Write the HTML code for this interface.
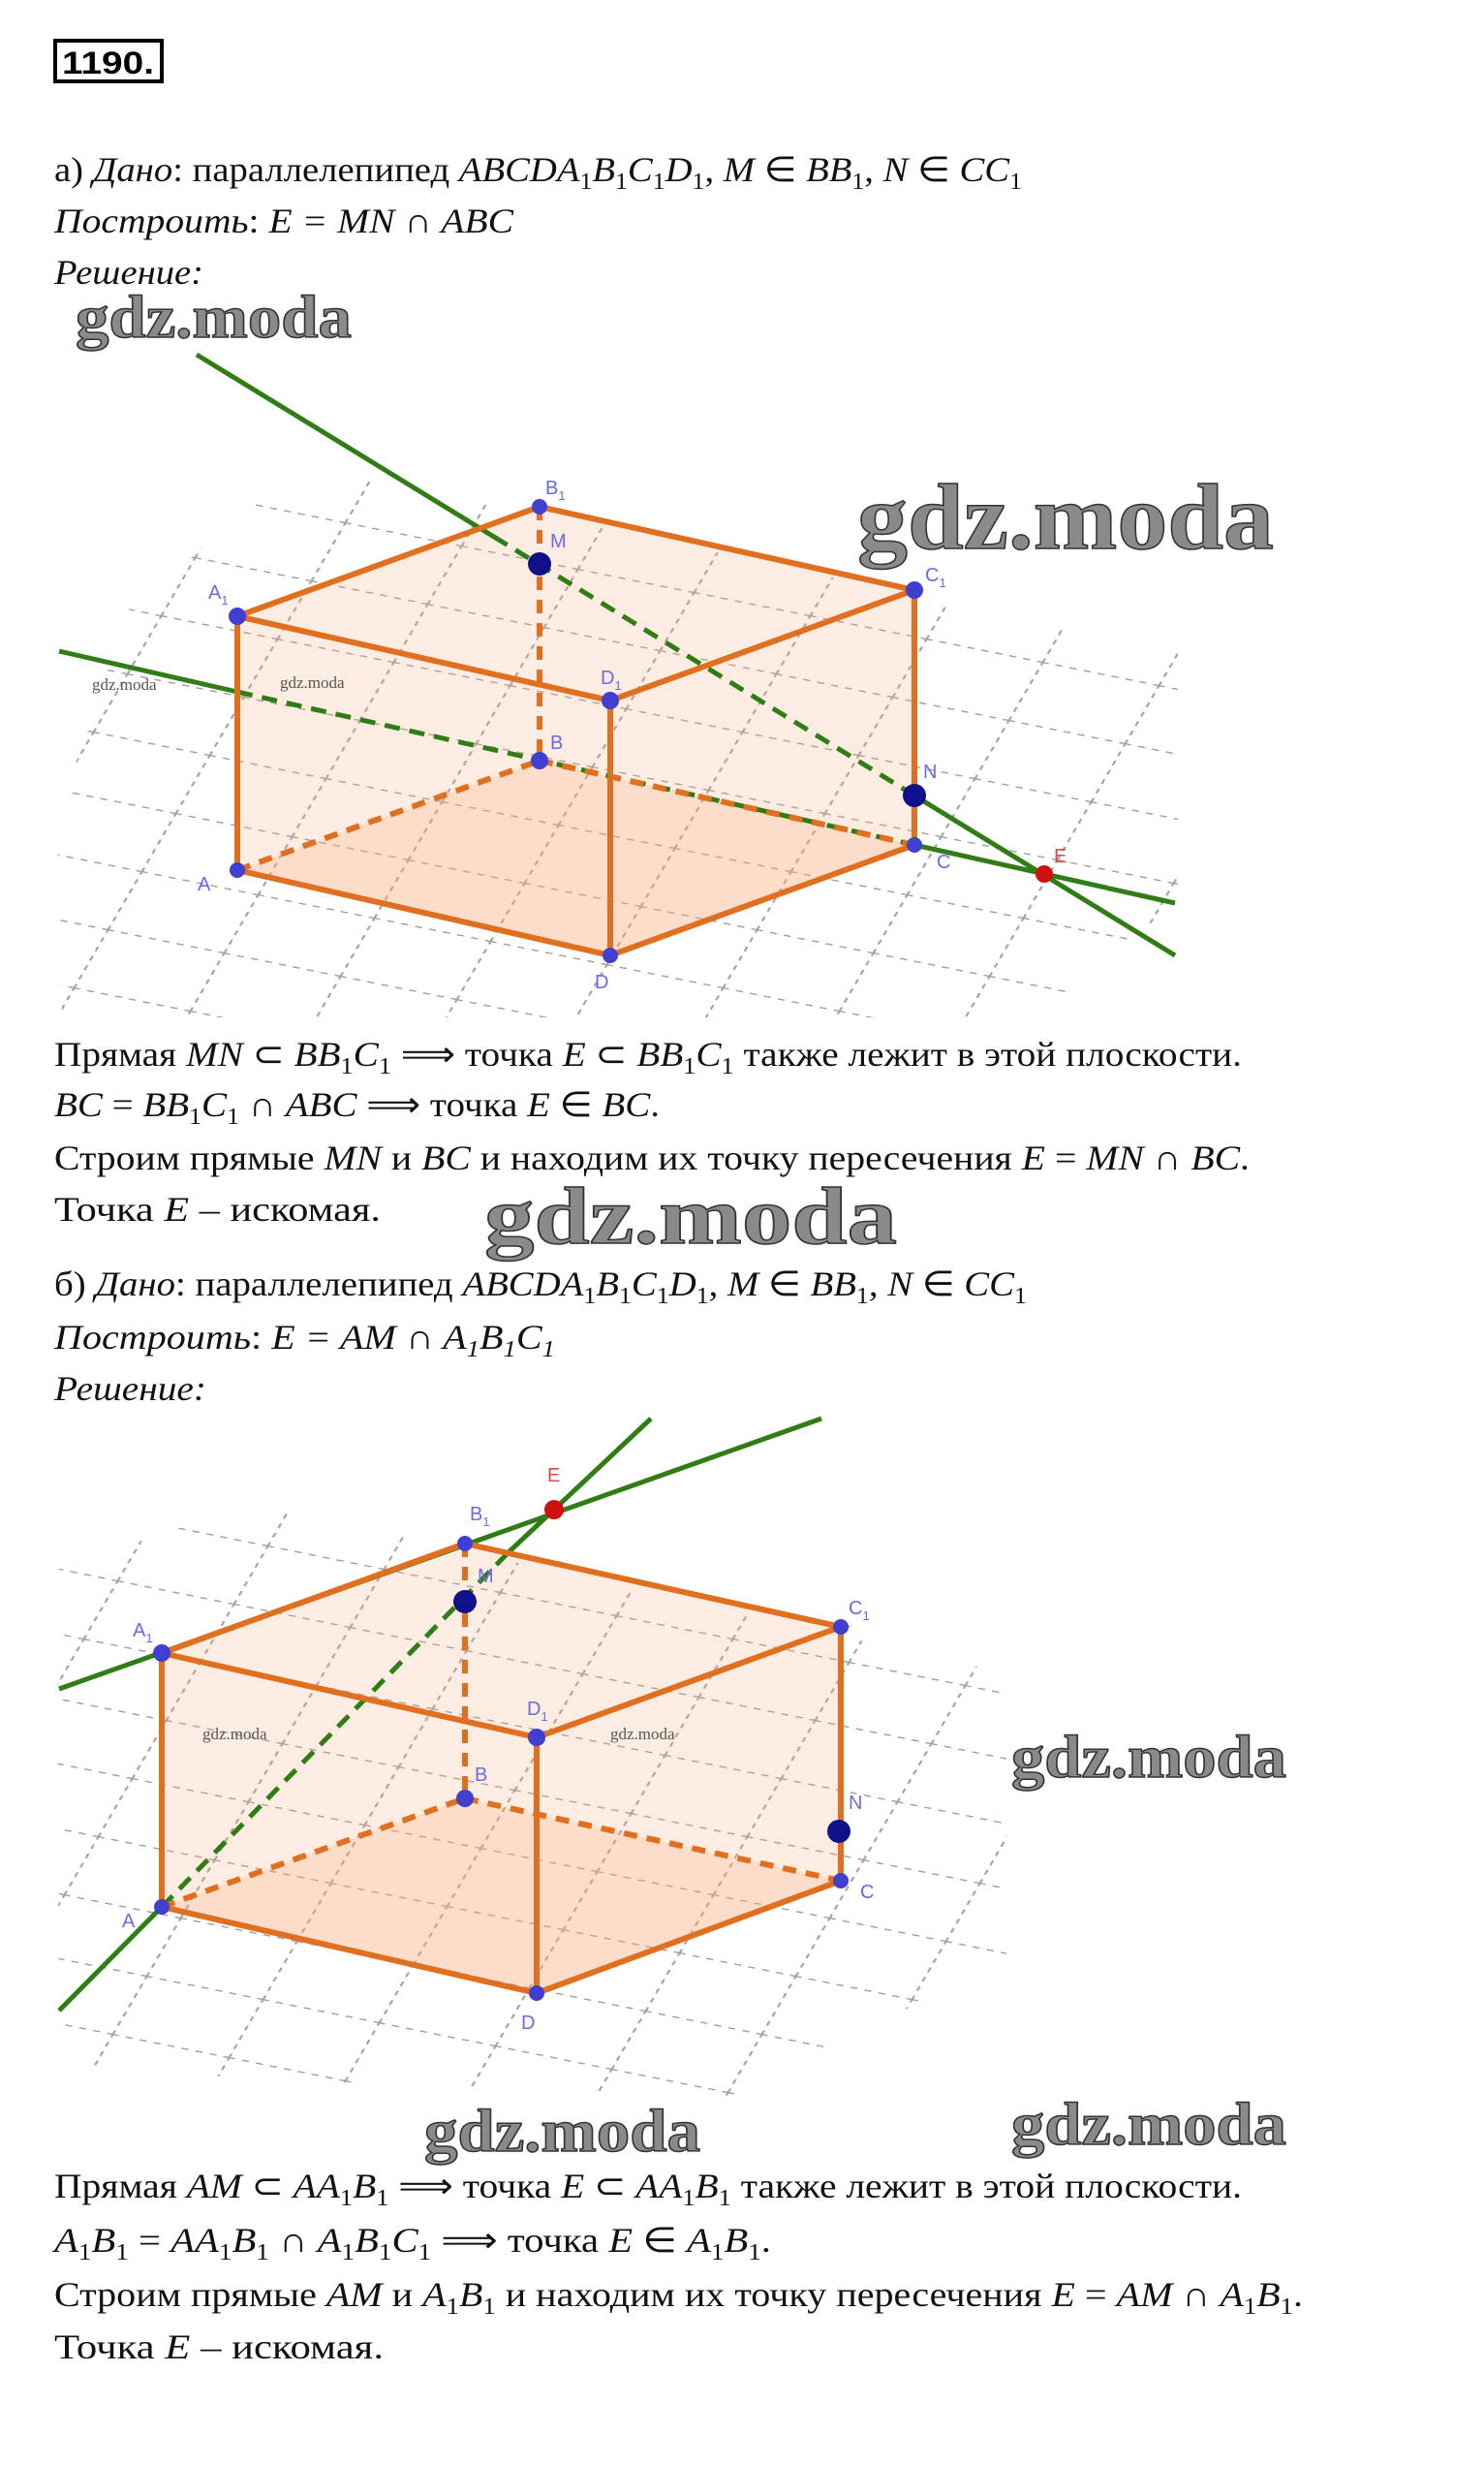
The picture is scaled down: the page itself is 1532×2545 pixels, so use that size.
<!DOCTYPE html>
<html><head><meta charset="utf-8"><style>
html,body{margin:0;padding:0;background:#fff}
svg{display:block}
.t{font-family:"Liberation Serif",serif;font-size:36px;fill:#111}
.i{font-style:italic}
.s{font-size:24px}
.wm{font-family:"Liberation Serif",serif;font-weight:bold;fill:#8a8a8a;stroke:#333;stroke-width:1.5}
.wms{font-family:"Liberation Serif",serif;font-size:17px;fill:#555}
.lb{font-family:"Liberation Sans",sans-serif;font-size:20px;fill:#6a6ae6}
.edge{stroke:#e07020;stroke-width:6;fill:none;stroke-linecap:round}
.dash{stroke:#e07020;stroke-width:6;fill:none;stroke-dasharray:14 10}
.g{stroke:#2f7d14;stroke-width:5;fill:none}
.gd{stroke:#2f7d14;stroke-width:5;fill:none;stroke-dasharray:16 10}
.p{fill:#3f3fd0}
.pm{fill:#10108a}
</style></head><body>
<svg width="1532" height="2545" viewBox="0 0 1532 2545" xmlns="http://www.w3.org/2000/svg">
<defs>
<pattern id="grid" width="100" height="100" patternUnits="userSpaceOnUse" patternTransform="matrix(1.2,0.24,0.35,-0.6,0,0)">
<line x1="0" y1="1" x2="100" y2="1" stroke="#888" stroke-width="2.4" stroke-dasharray="6 6"/>
<line x1="1" y1="0" x2="1" y2="100" stroke="#888" stroke-width="1.8" stroke-dasharray="8 8"/>
</pattern>
</defs>
<rect x="57" y="42" width="110" height="42" fill="none" stroke="#000" stroke-width="4"/>
<text x="64" y="76" style="font-family:'Liberation Sans',sans-serif;font-weight:bold;font-size:32px" textLength="95" lengthAdjust="spacingAndGlyphs">1190.</text>

<text class="t" x="56" y="187" textLength="999" lengthAdjust="spacingAndGlyphs">а) <tspan class="i">Дано</tspan>: параллелепипед <tspan class="i">ABCDA</tspan><tspan class="s" dy="8">1</tspan><tspan class="i" dy="-8">B</tspan><tspan class="s" dy="8">1</tspan><tspan class="i" dy="-8">C</tspan><tspan class="s" dy="8">1</tspan><tspan class="i" dy="-8">D</tspan><tspan class="s" dy="8">1</tspan><tspan dy="-8">, </tspan><tspan class="i">M</tspan> ∈ <tspan class="i">BB</tspan><tspan class="s" dy="8">1</tspan><tspan dy="-8">, </tspan><tspan class="i">N</tspan> ∈ <tspan class="i">CC</tspan><tspan class="s" dy="8">1</tspan></text>
<text class="t i" x="56" y="240" textLength="474" lengthAdjust="spacingAndGlyphs">Построить<tspan style="font-style:normal">: </tspan>E = MN ∩ ABC</text>
<text class="t i" x="56" y="293" textLength="154" lengthAdjust="spacingAndGlyphs">Решение:</text>

<polygon points="314,477 1216,674 1216,930 1069,1050 64,1050 59,856 120,640" fill="url(#grid)" opacity="0.8"/>
<g fill="rgba(245,170,120,0.22)">
<polygon points="245,636 557,523 944,609 630,723"/>
<polygon points="245,636 630,723 630,986 245,898"/>
<polygon points="630,723 944,609 944,872 630,986"/>
<polygon points="245,898 557,785 944,872 630,986"/>
</g>
<line class="g" x1="203" y1="366" x2="510" y2="554"/>
<line class="gd" x1="510" y1="554" x2="944" y2="821"/>
<line class="g" x1="944" y1="821" x2="1213" y2="986"/>
<line class="g" x1="61" y1="672" x2="245" y2="714"/>
<line class="gd" x1="245" y1="714" x2="944" y2="872"/>
<line class="g" x1="944" y1="872" x2="1213" y2="932"/>
<line class="dash" x1="557" y1="523" x2="557" y2="785"/>
<line class="dash" x1="245" y1="898" x2="557" y2="785"/>
<line class="dash" x1="557" y1="785" x2="944" y2="872"/>
<polyline class="edge" points="245,636 557,523 944,609 630,723 245,636"/>
<line class="edge" x1="245" y1="636" x2="245" y2="898"/>
<line class="edge" x1="630" y1="723" x2="630" y2="986"/>
<line class="edge" x1="944" y1="609" x2="944" y2="872"/>
<polyline class="edge" points="245,898 630,986 944,872"/>
<circle class="p" cx="557" cy="523" r="8"/><circle class="pm" cx="557" cy="582" r="12"/>
<circle class="p" cx="245" cy="636" r="9"/><circle class="p" cx="944" cy="609" r="9"/>
<circle class="p" cx="630" cy="723" r="9"/><circle class="p" cx="557" cy="785" r="9"/>
<circle class="pm" cx="944" cy="821" r="12"/><circle class="p" cx="944" cy="872" r="8"/>
<circle class="p" cx="245" cy="898" r="8"/><circle class="p" cx="630" cy="986" r="8"/>
<circle cx="1078" cy="902" r="9" fill="#d01010"/>
<text class="lb" x="563" y="510">B<tspan font-size="13" dy="6">1</tspan></text>
<text class="lb" x="568" y="565">M</text>
<text class="lb" x="215" y="618">A<tspan font-size="13" dy="6">1</tspan></text>
<text class="lb" x="955" y="600">C<tspan font-size="13" dy="6">1</tspan></text>
<text class="lb" x="620" y="706">D<tspan font-size="13" dy="6">1</tspan></text>
<text class="lb" x="568" y="773">B</text>
<text class="lb" x="953" y="803">N</text>
<text class="lb" x="967" y="896">C</text>
<text class="lb" x="204" y="919">A</text>
<text class="lb" x="614" y="1020">D</text>
<text class="lb" x="1088" y="890" style="fill:#e04848">E</text>
<text class="wms" x="95" y="712">gdz.moda</text>
<text class="wms" x="289" y="710">gdz.moda</text>
<text class="wm" x="78" y="348" font-size="62" textLength="285" lengthAdjust="spacingAndGlyphs">gdz.moda</text>
<text class="wm" x="885" y="566" font-size="96" textLength="430" lengthAdjust="spacingAndGlyphs">gdz.moda</text>

<text class="t" x="56" y="1100" textLength="1226" lengthAdjust="spacingAndGlyphs">Прямая <tspan class="i">MN</tspan> ⊂ <tspan class="i">BB</tspan><tspan class="s" dy="8">1</tspan><tspan class="i" dy="-8">C</tspan><tspan class="s" dy="8">1</tspan><tspan dy="-8"> ⟹ точка </tspan><tspan class="i">E</tspan> ⊂ <tspan class="i">BB</tspan><tspan class="s" dy="8">1</tspan><tspan class="i" dy="-8">C</tspan><tspan class="s" dy="8">1</tspan><tspan dy="-8"> также лежит в этой плоскости.</tspan></text>
<text class="t" x="56" y="1152" textLength="625" lengthAdjust="spacingAndGlyphs"><tspan class="i">BC</tspan> = <tspan class="i">BB</tspan><tspan class="s" dy="8">1</tspan><tspan class="i" dy="-8">C</tspan><tspan class="s" dy="8">1</tspan><tspan dy="-8"> ∩ </tspan><tspan class="i">ABC</tspan> ⟹ точка <tspan class="i">E</tspan> ∈ <tspan class="i">BC</tspan>.</text>
<text class="t" x="56" y="1207" textLength="1234" lengthAdjust="spacingAndGlyphs">Строим прямые <tspan class="i">MN</tspan> и <tspan class="i">BC</tspan> и находим их точку пересечения <tspan class="i">E</tspan> = <tspan class="i">MN</tspan> ∩ <tspan class="i">BC</tspan>.</text>
<text class="t" x="56" y="1260" textLength="337" lengthAdjust="spacingAndGlyphs">Точка  <tspan class="i">E</tspan>  – искомая.</text>
<text class="wm" x="500" y="1283" font-size="84" textLength="426" lengthAdjust="spacingAndGlyphs">gdz.moda</text>

<text class="t" x="56" y="1337" textLength="1004" lengthAdjust="spacingAndGlyphs">б) <tspan class="i">Дано</tspan>: параллелепипед <tspan class="i">ABCDA</tspan><tspan class="s" dy="8">1</tspan><tspan class="i" dy="-8">B</tspan><tspan class="s" dy="8">1</tspan><tspan class="i" dy="-8">C</tspan><tspan class="s" dy="8">1</tspan><tspan class="i" dy="-8">D</tspan><tspan class="s" dy="8">1</tspan><tspan dy="-8">, </tspan><tspan class="i">M</tspan> ∈ <tspan class="i">BB</tspan><tspan class="s" dy="8">1</tspan><tspan dy="-8">, </tspan><tspan class="i">N</tspan> ∈ <tspan class="i">CC</tspan><tspan class="s" dy="8">1</tspan></text>
<text class="t i" x="56" y="1392" textLength="517" lengthAdjust="spacingAndGlyphs">Построить<tspan style="font-style:normal">: </tspan>E = AM ∩ A<tspan class="s" dy="8">1</tspan><tspan dy="-8">B</tspan><tspan class="s" dy="8">1</tspan><tspan dy="-8">C</tspan><tspan class="s" dy="8">1</tspan></text>
<text class="t i" x="56" y="1445" textLength="157" lengthAdjust="spacingAndGlyphs">Решение:</text>

<polygon points="260,1551 1039,1727 1039,2022 745,2168 61,2135 59,1620" fill="url(#grid)" opacity="0.8"/>
<g fill="rgba(245,170,120,0.22)">
<polygon points="167,1706 480,1593 868,1679 554,1793"/>
<polygon points="167,1706 554,1793 554,2057 167,1968"/>
<polygon points="554,1793 868,1679 868,1941 554,2057"/>
<polygon points="167,1968 480,1856 868,1941 554,2057"/>
</g>
<line class="g" x1="61" y1="2075" x2="167" y2="1968"/>
<line class="gd" x1="167" y1="1968" x2="525" y2="1602"/>
<line class="g" x1="525" y1="1602" x2="672" y2="1464"/>
<line class="g" x1="61" y1="1743" x2="848" y2="1464"/>
<line class="dash" x1="480" y1="1593" x2="480" y2="1856"/>
<line class="dash" x1="167" y1="1968" x2="480" y2="1856"/>
<line class="dash" x1="480" y1="1856" x2="868" y2="1941"/>
<polyline class="edge" points="167,1706 480,1593 868,1679 554,1793 167,1706"/>
<line class="edge" x1="167" y1="1706" x2="167" y2="1968"/>
<line class="edge" x1="554" y1="1793" x2="554" y2="2057"/>
<line class="edge" x1="868" y1="1679" x2="868" y2="1941"/>
<polyline class="edge" points="167,1968 554,2057 868,1941"/>
<circle class="p" cx="480" cy="1593" r="8"/><circle class="pm" cx="480" cy="1653" r="12"/>
<circle class="p" cx="167" cy="1706" r="9"/><circle class="p" cx="868" cy="1679" r="8"/>
<circle class="p" cx="554" cy="1793" r="9"/><circle class="p" cx="480" cy="1856" r="9"/>
<circle class="pm" cx="866" cy="1890" r="12"/><circle class="p" cx="868" cy="1941" r="8"/>
<circle class="p" cx="167" cy="1968" r="8"/><circle class="p" cx="554" cy="2057" r="8"/>
<circle cx="572" cy="1558" r="10" fill="#d01010"/>
<text class="lb" x="565" y="1529" style="fill:#e04848">E</text>
<text class="lb" x="485" y="1569">B<tspan font-size="13" dy="6">1</tspan></text>
<text class="lb" x="493" y="1633">M</text>
<text class="lb" x="137" y="1689">A<tspan font-size="13" dy="6">1</tspan></text>
<text class="lb" x="876" y="1666">C<tspan font-size="13" dy="6">1</tspan></text>
<text class="lb" x="544" y="1770">D<tspan font-size="13" dy="6">1</tspan></text>
<text class="lb" x="490" y="1838">B</text>
<text class="lb" x="876" y="1867">N</text>
<text class="lb" x="888" y="1959">C</text>
<text class="lb" x="126" y="1989">A</text>
<text class="lb" x="538" y="2094">D</text>
<text class="wms" x="209" y="1795">gdz.moda</text>
<text class="wms" x="630" y="1795">gdz.moda</text>
<text class="wm" x="1044" y="1834" font-size="62" textLength="284" lengthAdjust="spacingAndGlyphs">gdz.moda</text>
<text class="wm" x="438" y="2220" font-size="62" textLength="285" lengthAdjust="spacingAndGlyphs">gdz.moda</text>
<text class="wm" x="1044" y="2213" font-size="62" textLength="284" lengthAdjust="spacingAndGlyphs">gdz.moda</text>

<text class="t" x="56" y="2268" textLength="1226" lengthAdjust="spacingAndGlyphs">Прямая <tspan class="i">AM</tspan> ⊂ <tspan class="i">AA</tspan><tspan class="s" dy="8">1</tspan><tspan class="i" dy="-8">B</tspan><tspan class="s" dy="8">1</tspan><tspan dy="-8"> ⟹ точка </tspan><tspan class="i">E</tspan> ⊂ <tspan class="i">AA</tspan><tspan class="s" dy="8">1</tspan><tspan class="i" dy="-8">B</tspan><tspan class="s" dy="8">1</tspan><tspan dy="-8"> также лежит в этой плоскости.</tspan></text>
<text class="t" x="56" y="2324" textLength="740" lengthAdjust="spacingAndGlyphs"><tspan class="i">A</tspan><tspan class="s" dy="8">1</tspan><tspan class="i" dy="-8">B</tspan><tspan class="s" dy="8">1</tspan><tspan dy="-8"> = </tspan><tspan class="i">AA</tspan><tspan class="s" dy="8">1</tspan><tspan class="i" dy="-8">B</tspan><tspan class="s" dy="8">1</tspan><tspan dy="-8"> ∩ </tspan><tspan class="i">A</tspan><tspan class="s" dy="8">1</tspan><tspan class="i" dy="-8">B</tspan><tspan class="s" dy="8">1</tspan><tspan class="i" dy="-8">C</tspan><tspan class="s" dy="8">1</tspan><tspan dy="-8"> ⟹ точка </tspan><tspan class="i">E</tspan> ∈ <tspan class="i">A</tspan><tspan class="s" dy="8">1</tspan><tspan class="i" dy="-8">B</tspan><tspan class="s" dy="8">1</tspan><tspan dy="-8">.</tspan></text>
<text class="t" x="56" y="2380" textLength="1289" lengthAdjust="spacingAndGlyphs">Строим прямые <tspan class="i">AM</tspan> и <tspan class="i">A</tspan><tspan class="s" dy="8">1</tspan><tspan class="i" dy="-8">B</tspan><tspan class="s" dy="8">1</tspan><tspan dy="-8"> и находим их точку пересечения </tspan><tspan class="i">E</tspan> = <tspan class="i">AM</tspan> ∩ <tspan class="i">A</tspan><tspan class="s" dy="8">1</tspan><tspan class="i" dy="-8">B</tspan><tspan class="s" dy="8">1</tspan><tspan dy="-8">.</tspan></text>
<text class="t" x="56" y="2434" textLength="340" lengthAdjust="spacingAndGlyphs">Точка  <tspan class="i">E</tspan>  – искомая.</text>
</svg>
</body></html>
